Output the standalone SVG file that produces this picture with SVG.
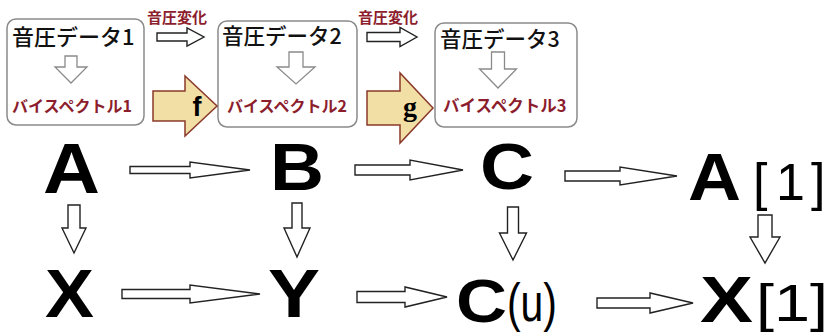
<svg xmlns="http://www.w3.org/2000/svg" width="835" height="336" viewBox="0 0 835 336">
<style>
.box{fill:#fff;stroke:#8a8a8a;stroke-width:1.5}
.jp{font-family:"Noto Sans CJK JP","Noto Sans",sans-serif;fill:#111;font-weight:500}
.red{font-family:"Noto Sans CJK JP","Noto Sans",sans-serif;fill:#8c1d2c;font-weight:bold}
.garr{fill:#fff;stroke:#8a8a8a;stroke-width:1.3}
.arr{fill:#fff;stroke:#222;stroke-width:1.4}
.big{fill:#f2dfa6;stroke:#8a3a2a;stroke-width:1.5}
.L{font-family:"Liberation Sans",Arial,sans-serif;font-weight:bold;fill:#000}
.S{font-family:"Liberation Sans",Arial,sans-serif;font-weight:normal;fill:#000}
</style>
<rect width="835" height="336" fill="#fff"/>
<g id="box1">
<rect class="box" x="7" y="19" width="137" height="106" rx="9"/>
<text class="jp" x="12" y="45" font-size="22">音圧データ1</text>
<polygon class="garr" points="65,56 77,56 77,67 87,67 71,83 55,67 65,67"/>
<text class="red" x="12" y="112" font-size="16">バイスペクトル1</text>
</g>
<g id="box2">
<rect class="box" x="218" y="21" width="139" height="106" rx="9"/>
<text class="jp" x="222" y="44" font-size="21.5">音圧データ2</text>
<polygon class="garr" points="289,52 303,52 303,67 315,67 296,84 277,67 289,67"/>
<text class="red" x="227" y="112" font-size="16">バイスペクトル2</text>
</g>
<g id="box3">
<rect class="box" x="435" y="23" width="142" height="104" rx="9"/>
<text class="jp" x="440" y="47" font-size="21.5">音圧データ3</text>
<polygon class="garr" points="491.5,52 504.5,52 504.5,69 516.5,69 498,88 479.5,69 491.5,69"/>
<text class="red" x="443" y="112" font-size="16.5">バイスペクトル3</text>
</g>
<g id="change1">
<text class="red" x="147" y="23" font-size="15">音圧変化</text>
<polygon class="arr" points="157,33 187,33 187,28 204,37 187,46 187,41 157,41"/>
</g>
<g id="change2">
<text class="red" x="358" y="23" font-size="15">音圧変化</text>
<polygon class="arr" points="367,32.5 400,32.5 400,27.5 417,37 400,46.5 400,41.5 367,41.5"/>
</g>
<g id="f">
<polygon class="big" points="153,91 185,91 185,76 217,106 185,136 185,121 153,121"/>
<text x="197" y="116" font-family="Liberation Sans,Arial,sans-serif" font-weight="bold" font-size="27" text-anchor="middle">f</text>
</g>
<g id="g">
<polygon class="big" points="367,91 400,91 400,73 433,108 400,143 400,125 367,125"/>
<text x="410" y="116" font-family="Liberation Serif,Times New Roman,serif" font-weight="bold" font-size="28" text-anchor="middle">g</text>
</g>
<g id="nA"><text class="L" x="43" y="193" font-size="71" textLength="57" lengthAdjust="spacingAndGlyphs">A</text></g>
<g id="nB"><text class="L" x="270" y="190" font-size="66" textLength="54" lengthAdjust="spacingAndGlyphs">B</text></g>
<g id="nC"><text class="L" x="480" y="189" font-size="65" textLength="54" lengthAdjust="spacingAndGlyphs">C</text></g>
<g id="nA1"><text class="L" x="688" y="200" font-size="67" textLength="53" lengthAdjust="spacingAndGlyphs">A</text><text class="S" font-size="52"><tspan x="753" y="200">[</tspan><tspan x="776" y="200">1</tspan><tspan x="811" y="200">]</tspan></text></g>
<g id="nX"><text class="L" x="45" y="317" font-size="68" textLength="49" lengthAdjust="spacingAndGlyphs">X</text></g>
<g id="nY"><text class="L" x="268" y="317" font-size="68" textLength="52" lengthAdjust="spacingAndGlyphs">Y</text></g>
<g id="nCu"><text class="L" x="456" y="322" font-size="62" textLength="51" lengthAdjust="spacingAndGlyphs">C</text><text class="S" x="507" y="321" font-size="54" textLength="50" lengthAdjust="spacingAndGlyphs">(u)</text></g>
<g id="nX1"><text class="L" x="700" y="322" font-size="64" textLength="53" lengthAdjust="spacingAndGlyphs">X</text><text class="S" x="756" y="321" font-size="52" textLength="72" lengthAdjust="spacingAndGlyphs">[1]</text></g>
<g id="connectors">
<polygon class="arr" points="130,166.5 190,166.5 190,162 250,170 190,178 190,173.5 130,173.5"/>
<polygon class="arr" points="355,165 410,165 410,160 463,170 410,180 410,175 355,175"/>
<polygon class="arr" points="565,171 620,171 620,167 677,176 620,185 620,181 565,181"/>
<polygon class="arr" points="122,289.5 190,289.5 190,285 260,294 190,303 190,298.5 122,298.5"/>
<polygon class="arr" points="357,291.5 405,291.5 405,287 447,297 405,307 405,302.5 357,302.5"/>
<polygon class="arr" points="597,298 650,298 650,293 693,303 650,313 650,308 597,308"/>
<polygon class="arr" points="68,205 80,205 80,228 86,228 74,253 62,228 68,228"/>
<polygon class="arr" points="292,203 302,203 302,228 310,228 297,257 284,228 292,228"/>
<polygon class="arr" points="507.5,207 518.5,207 518.5,233 526.5,233 513,260 499.5,233 507.5,233"/>
<polygon class="arr" points="758,215 772,215 772,237 780,237 765,263 750,237 758,237"/>
</g>
</svg>
